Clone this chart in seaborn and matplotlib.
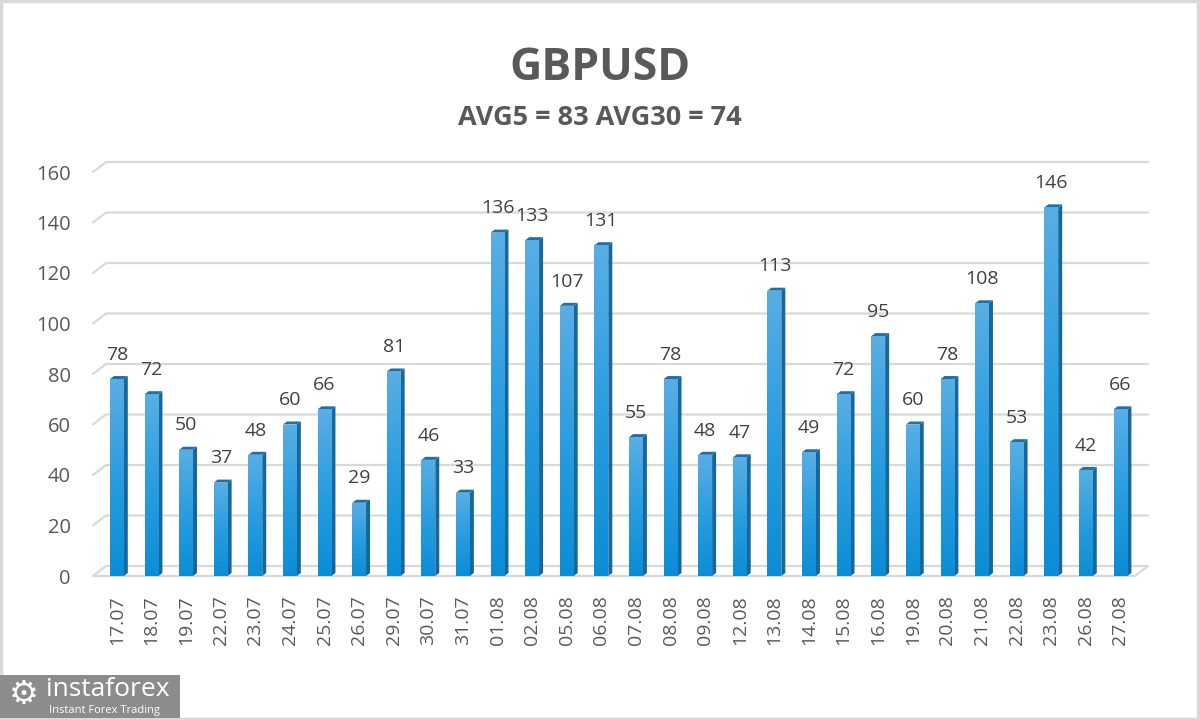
import numpy as np
import matplotlib
matplotlib.use("Agg")
import matplotlib.pyplot as plt
from matplotlib.patches import Polygon, Rectangle
from matplotlib.colors import LinearSegmentedColormap
import seaborn as sns

sns.set_theme(style="white")
plt.rcParams["font.family"] = ["Open Sans", "DejaVu Sans"]

# -----------------------
# DATA
# -----------------------
dates = ["17.07", "18.07", "19.07", "22.07", "23.07", "24.07", "25.07", "26.07",
         "29.07", "30.07", "31.07", "01.08", "02.08", "05.08", "06.08", "07.08",
         "08.08", "09.08", "12.08", "13.08", "14.08", "15.08", "16.08", "19.08",
         "20.08", "21.08", "22.08", "23.08", "26.08", "27.08"]
pips = [78, 72, 50, 37, 48, 60, 66, 29, 81, 46, 33, 136, 133, 107, 131, 55,
        78, 48, 47, 113, 49, 72, 95, 60, 78, 108, 53, 146, 42, 66]
title = "GBPUSD"
subtitle = "AVG5 = 83 AVG30 = 74"
y_ticks = list(range(0, 161, 20))

TEXT = "#595959"
GRID = "#d9d9d9"

# -----------------------
# FIGURE SETUP
# -----------------------
W, H = 1200, 720
fig = plt.figure(figsize=(12, 7.2), dpi=100)
fig.patch.set_facecolor("white")
ax = fig.add_axes([93 / W, 144 / H, (1135 - 93) / W, (576 - 172) / H])

sns.barplot(x=dates, y=pips, color="#1a93d9", width=0.4, ax=ax,
            saturation=1, zorder=3)

xmin, xmax = -0.69, 29.42
ax.set_xlim(xmin, xmax)
ax.set_ylim(0, 160)
for s in ax.spines.values():
    s.set_visible(False)
ax.grid(False)

# pixel -> data scale
p0 = ax.transData.transform((0, 0))
p1 = ax.transData.transform((1, 1))
sx, sy = p1[0] - p0[0], p1[1] - p0[1]

# -----------------------
# BACK WALL GRID
# -----------------------
gx, gy = 13 / sx, 10 / sy
for t in y_ticks:
    ax.plot([xmin, xmin + gx, xmax + gx], [t, t + gy, t + gy],
            color=GRID, lw=1.6, clip_on=False, zorder=0)
ax.plot([xmin, xmax, xmax + gx], [0, 0, gy], color=GRID, lw=1.6,
        clip_on=False, zorder=1)

# -----------------------
# 3D BARS
# -----------------------
cmap = LinearSegmentedColormap.from_list("bar", ["#0b8dd6", "#2a9de0", "#5aaee4"])
grad = np.linspace(0, 1, 256).reshape(-1, 1)
bx, by = 4 / sx, 3 / sy
for patch in ax.patches[:len(pips)]:
    x0 = patch.get_x()
    w = patch.get_width()
    h = patch.get_height()
    x1 = x0 + w
    patch.set_edgecolor("none")
    im = ax.imshow(grad, extent=[x0, x1, 0, h], origin="lower", cmap=cmap,
                   aspect="auto", zorder=3.5)
    im.set_clip_path(patch)
    side = Polygon([(x1, 0), (x1 + bx, by), (x1 + bx, h + by), (x1, h)],
                   closed=True, facecolor="#16679c", edgecolor="none", zorder=3)
    top = Polygon([(x0, h), (x1, h), (x1 + bx, h + by), (x0 + bx, h + by)],
                  closed=True, facecolor="#1f6fa8", edgecolor="none", zorder=3)
    ax.add_patch(side)
    ax.add_patch(top)

ax.set_xlim(xmin, xmax)
ax.set_ylim(0, 160)

ax.bar_label(ax.containers[0], labels=[str(v) for v in pips], padding=11,
             fontsize=14, color="#404040")

# -----------------------
# TICKS
# -----------------------
ax.set_yticks(y_ticks)
ax.tick_params(axis="y", length=0, pad=16, labelsize=14.5, labelcolor=TEXT)
ax.tick_params(axis="x", length=0, pad=14, labelsize=14, labelcolor=TEXT,
               rotation=90)
for lab in ax.get_xticklabels():
    lab.set_va("top")

# -----------------------
# TITLES
# -----------------------
fig.text(0.5, 1 - 68 / H, title, ha="center", va="center", fontsize=32,
         fontweight="bold", color=TEXT)
fig.text(0.5, 1 - 118 / H, subtitle, ha="center", va="center", fontsize=19.5,
         fontweight="bold", color=TEXT)

# border
fig.patches.append(Rectangle((0.001, 0.002), 0.997, 0.996, transform=fig.transFigure,
                             fill=False, edgecolor=GRID, lw=2.5))

# watermark
fig.patches.append(Rectangle((0, 2 / H), 180 / W, 43 / H, transform=fig.transFigure,
                             facecolor="#8c8c8c", edgecolor="none"))
fig.text(24 / W, 1 - 694 / H, "\u2699", ha="center", va="center", fontsize=24,
         color="white", family=["DejaVu Sans"])
fig.text(46 / W, 1 - 689 / H, "instaforex", ha="left", va="center", fontsize=19,
         color="white")
fig.text(49 / W, 1 - 710 / H, "Instant Forex Trading", ha="left", va="center",
         fontsize=8, color="white")

fig.savefig("out.png", dpi=100, facecolor="white")
